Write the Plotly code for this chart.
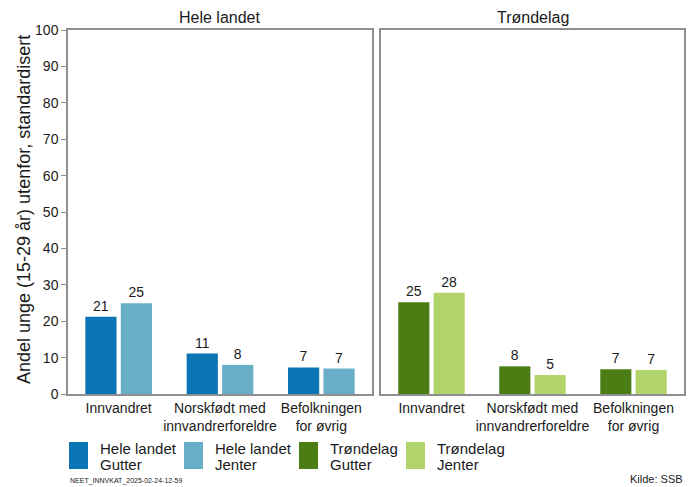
import plotly.graph_objects as go

categories = ["Innvandret", "Norskfødt med<br>innvandrerforeldre", "Befolkningen<br>for øvrig"]
hele_gutter = [21.2, 11.1, 7.3]
hele_jenter = [24.9, 8.0, 7.0]
trond_gutter = [25.2, 7.6, 6.8]
trond_jenter = [27.8, 5.2, 6.6]
y_ticks = [0, 10, 20, 30, 40, 50, 60, 70, 80, 90, 100]
panel_titles = ["Hele landet", "Trøndelag"]
legend_line1 = ["Hele landet", "Hele landet", "Trøndelag", "Trøndelag"]
legend_line2 = ["Gutter", "Jenter", "Gutter", "Jenter"]
colors = ["#0b74b4", "#68aec6", "#4b7d14", "#b0d46a"]

W, H = 694, 487
fig = go.Figure()

series = [
    (hele_gutter, "x", "y", colors[0]),
    (hele_jenter, "x", "y", colors[1]),
    (trond_gutter, "x2", "y2", colors[2]),
    (trond_jenter, "x2", "y2", colors[3]),
]
for i, (vals, xa, ya, col) in enumerate(series):
    fig.add_trace(go.Bar(
        x=categories, y=vals, xaxis=xa, yaxis=ya,
        marker=dict(color=col, line=dict(width=0)),
        text=[f"{v:.0f}" for v in vals], textposition="outside",
        textfont=dict(size=14, color="#1a1a1a"),
        cliponaxis=False, showlegend=False,
        offsetgroup=str(i % 2),
    ))

line_col = "#8f8f8f"
xd1 = [68 / W, 372 / W]
xd2 = [381 / W, 684 / W]
yd = [1 - 394 / H, 1 - 30 / H]

xcommon = dict(showline=True, mirror=True, linecolor=line_col, linewidth=1.5,
               ticks="", showgrid=False, tickfont=dict(size=14, color="#1a1a1a"),
               range=[-0.5, 2.5], fixedrange=True, automargin=False)
ycommon = dict(showline=True, mirror=True, linecolor=line_col, linewidth=1.5,
               range=[0, 100], showgrid=False, zeroline=False, tickvals=y_ticks,
               automargin=False)

fig.update_layout(
    width=W, height=H,
    margin=dict(l=0, r=0, t=0, b=0, autoexpand=False),
    paper_bgcolor="white", plot_bgcolor="white",
    font=dict(family="Liberation Sans, Arial, sans-serif", color="#1a1a1a"),
    barmode="group", bargap=0.30, bargroupgap=0.12,
    xaxis=dict(domain=xd1, anchor="y", **xcommon),
    xaxis2=dict(domain=xd2, anchor="y2", **xcommon),
    yaxis=dict(domain=yd, anchor="x", ticks="outside", ticklen=5, tickcolor=line_col,
               tickfont=dict(size=14, color="#1a1a1a"), **ycommon),
    yaxis2=dict(domain=yd, anchor="x2", matches="y", showticklabels=False, ticks="", **ycommon),
)

annotations = []
for t, d in zip(panel_titles, [xd1, xd2]):
    annotations.append(dict(text=t, x=(d[0] + d[1]) / 2, y=1 - 18 / H, xref="paper", yref="paper",
                            showarrow=False, font=dict(size=16, color="#1a1a1a"),
                            xanchor="center", yanchor="middle"))
annotations.append(dict(text="Andel unge (15-29 år) utenfor, standardisert", x=24 / W, y=1 - 210 / H,
                        xref="paper", yref="paper", showarrow=False, textangle=-90,
                        font=dict(size=18, color="#1a1a1a"), xanchor="center", yanchor="middle"))

shapes = []
sw_x = [69, 184, 299, 406]
for l1, l2, col, sx in zip(legend_line1, legend_line2, colors, sw_x):
    shapes.append(dict(type="rect", xref="paper", yref="paper",
                       x0=sx / W, x1=(sx + 19) / W, y0=1 - 469 / H, y1=1 - 442 / H,
                       fillcolor=col, line=dict(width=0)))
    for txt, yc in ((l1, 448), (l2, 464)):
        annotations.append(dict(text=txt, x=(sx + 29) / W, y=1 - yc / H, xref="paper", yref="paper",
                                showarrow=False, align="left", xanchor="left", yanchor="middle",
                                font=dict(size=15, color="#1a1a1a")))
annotations.append(dict(text="NEET_INNVKAT_2025-02-24-12-59", x=68 / W, y=1 - 481 / H,
                        xref="paper", yref="paper", showarrow=False, xanchor="left", yanchor="middle",
                        font=dict(size=7, color="#1a1a1a")))
annotations.append(dict(text="Kilde: SSB", x=685 / W, y=1 - 479 / H, xref="paper", yref="paper",
                        showarrow=False, xanchor="right", yanchor="middle",
                        font=dict(size=11, color="#1a1a1a")))

fig.update_layout(annotations=annotations, shapes=shapes)
fig.write_html("out.html", config={"displayModeBar": False},
               post_script="document.body.style.margin='0';document.body.style.overflow='hidden';")
